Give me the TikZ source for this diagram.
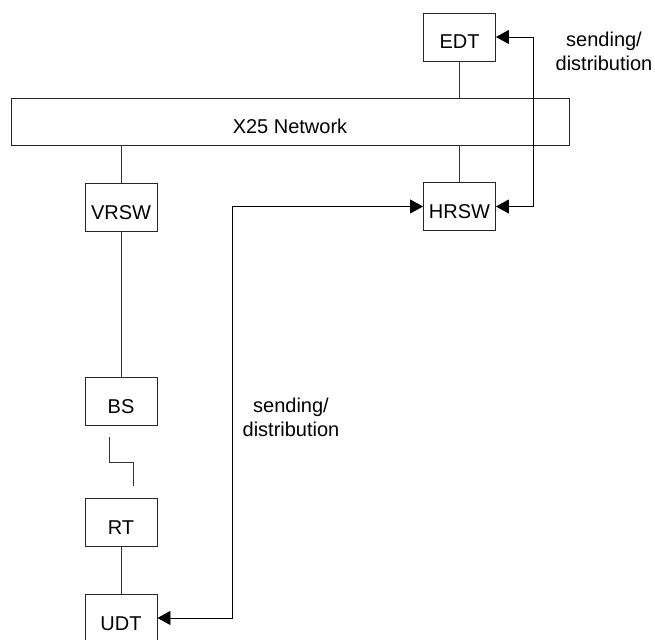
\documentclass[tikz,border=0pt]{standalone}
\usepackage{fontspec}
\setmainfont{Liberation Sans}
\usetikzlibrary{arrows.meta}

\tikzset{
  box/.style={draw=black!85, line width=0.9pt, minimum width=72pt, minimum height=48pt,
              inner sep=0pt, text height=24pt, text depth=0pt,
              font=\fontsize{20}{22}\selectfont},
  wire/.style={draw=black!80, line width=0.9pt},
  flow/.style={draw=black, line width=0.9pt, {Triangle[length=13pt,width=14pt]}-{Triangle[length=13pt,width=14pt]}},
  note/.style={align=center, inner sep=0pt, font=\fontsize{20}{24}\selectfont}
}

\begin{document}
\begin{tikzpicture}[x=1pt,y=-1pt]
  \useasboundingbox (0,0) rectangle (655,639);

  % network backbone and attached units
  \node[box, minimum width=558pt, minimum height=47pt] (net) at (290,121.5) {X25 Network};
  \node[box] (edt)  at (459.5,37)  {EDT};
  \node[box] (hrsw) at (459.5,206.5) {HRSW};
  \node[box] (vrsw) at (121,207)   {VRSW};
  \node[box] (bs)   at (121,401)   {BS};
  \node[box] (rt)   at (121,522)   {RT};
  \node[box] (udt)  at (121,618)   {UDT};

  % plain links
  \draw[wire] (edt.south) -- (edt.south |- net.north);
  \draw[wire] (hrsw.north) -- (hrsw.north |- net.south);
  \draw[wire] (vrsw.north) -- (vrsw.north |- net.south);
  \draw[wire] (vrsw.south) -- (bs.north);
  \draw[wire] (rt.south) -- (udt.north);

  % radio hop between BS and RT
  \coordinate (hopA) at (109,437);
  \coordinate (hopB) at (133,486);
  \draw[wire] (hopA) -- ++(0,25) -| (hopB);

  % sending / distribution paths
  \draw[flow] (edt.east) -- ++(37,0) |- (hrsw.east);
  \draw[flow] (udt.east) -- ++(75,0) |- (hrsw.west);

  \node[note, anchor=north] (lblTop) at (604,32) {sending/\\distribution};
  \node[note, anchor=north] (lblLow) at (291,398) {sending/\\distribution};
\end{tikzpicture}
\end{document}
